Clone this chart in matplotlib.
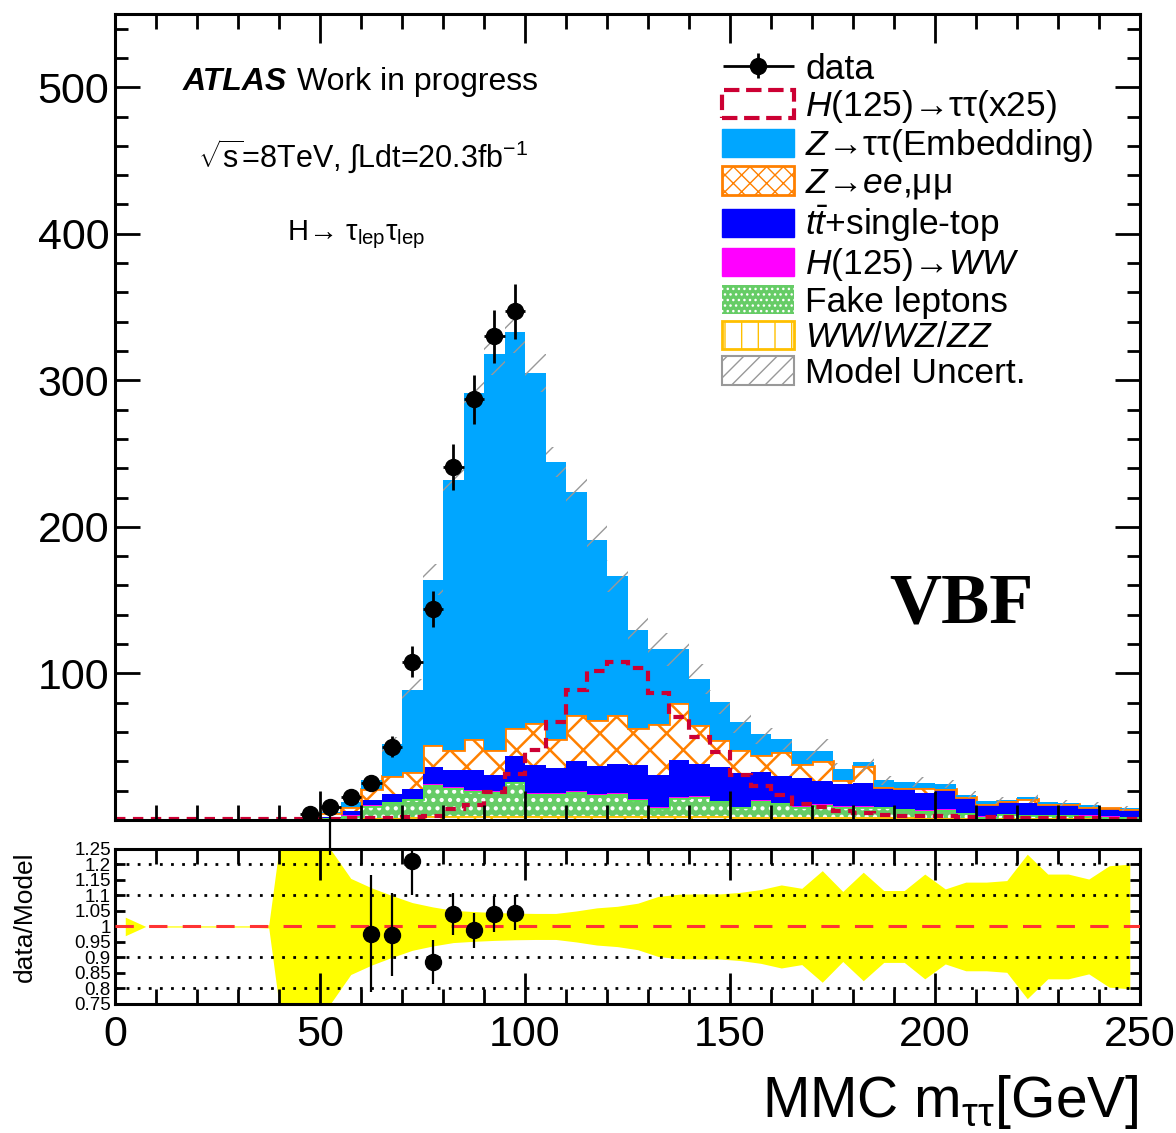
import matplotlib
matplotlib.use("Agg")
import matplotlib.pyplot as plt
import matplotlib.patches as mpatches
from matplotlib.legend_handler import HandlerErrorbar
from matplotlib.ticker import MultipleLocator, FixedLocator, FuncFormatter
from matplotlib.transforms import Bbox, TransformedBbox
import numpy as np

plt.rcParams["font.family"] = ["Liberation Sans", "DejaVu Sans"]
plt.rcParams["mathtext.fontset"] = "custom"
plt.rcParams["mathtext.rm"] = "Liberation Sans"
plt.rcParams["mathtext.it"] = "Liberation Sans:italic"
plt.rcParams["mathtext.bf"] = "Liberation Sans:bold"

# ---------------------------------------------------------------------------
# MMC mass histograms, 5 GeV bins from 0 to 250 GeV (VBF category)
# ---------------------------------------------------------------------------
edges = np.arange(0, 255, 5)
centers = 0.5 * (edges[:-1] + edges[1:])

diboson = [0, 0, 0, 0, 0, 0, 0, 0, 0, 0.1, 0.3, 0.6, 1.0, 1.5, 2.0, 2.5, 2.5,
           2.5, 2.5, 3.0, 3.0, 3.0, 3.0, 3.0, 3.0, 2.5, 2.5, 2.5, 2.5, 2.5,
           2.0, 2.0, 2.0, 2.0, 2.0, 2.0, 2.0, 2.0, 1.8, 1.5, 1.5, 1.5, 1.0,
           1.2, 1.2, 1.0, 1.0, 1.0, 0.8, 0.8]
fakes = [0, 0, 0, 0, 0, 0, 0, 0, 0, 0.2, 0.7, 2.4, 8.5, 10.5, 12.1, 21.5,
         19.5, 17.5, 16.5, 22.6, 15.0, 15.0, 16.4, 14.0, 14.8, 11.2, 5.5,
         12.3, 13.5, 10.1, 6.5, 11.0, 9.4, 7.1, 8.3, 7.1, 7.1, 6.5, 5.5, 4.6,
         5.3, 3.0, 1.3, 2.7, 2.2, 2.4, 2.2, 2.0, 1.5, 1.0]
hww = [0, 0, 0, 0, 0, 0, 0, 0, 0, 0, 0.1, 0.2, 0.4, 0.5, 0.5, 0.6, 0.6, 0.6,
       0.6, 0.6, 0.6, 0.6, 0.6, 0.6, 0.6, 0.6, 0.6, 0.6, 0.6, 0.6, 0.5, 0.5,
       0.5, 0.5, 0.5, 0.5, 0.5, 0.5, 0.4, 0.4, 0.4, 0.3, 0.3, 0.3, 0.3, 0.3,
       0.3, 0.3, 0.3, 0.3]
top = [0, 0, 0, 0, 0, 0, 0, 0, 0, 0.3, 1.1, 2.6, 3.6, 5.5, 6.4, 11.4, 11.4,
       13.4, 11.0, 17.6, 19.0, 17.0, 20.4, 19.4, 19.9, 23.4, 22.2, 25.6, 21.8,
       22.6, 23.0, 19.4, 17.8, 18.9, 15.5, 14.8, 15.5, 13.4, 13.3, 12.2, 13.3,
       10.7, 8.0, 7.8, 7.8, 6.8, 7.3, 5.7, 5.3, 5.3]
zll = [0, 0, 0, 0, 0, 0, 0, 0, 0, 0.4, 2.4, 3.2, 7.5, 12.0, 12.0, 15.0, 13.5,
       21.5, 16.9, 19.0, 28.4, 19.9, 31.0, 31.5, 33.1, 25.1, 34.7, 38.5, 26.2,
       19.0, 15.5, 11.6, 16.6, 9.9, 14.1, 3.0, 11.9, 0.4, 0.7, 3.0, 0.5, 0.5,
       0.4, 0.6, 2.9, 0.3, 0.2, 0.1, 0.1, 0.1]
ztt = [0, 0, 0, 0, 0, 0, 0, 0, 0.3, 0.8, 0.8, 3.0, 6.0, 21.5, 56.0, 113.0,
       184.5, 235.5, 270.5, 270.2, 239.0, 188.5, 152.6, 122.5, 95.2, 66.9,
       50.9, 36.9, 31.7, 25.6, 19.2, 14.2, 9.0, 8.4, 6.4, 7.3, 2.5, 4.2, 3.9,
       3.5, 3.5, 1.1, 1.6, 1.1, 1.1, 1.5, 0.6, 1.4, 0.4, 0.5]
signal_x25 = [0.5, 0.5, 0.5, 0.5, 0.5, 0.5, 0.5, 0.5, 0.5, 0.6, 0.8, 1.0, 1.2,
              1.5, 2.3, 3.0, 7.3, 10.3, 19.4, 31.3, 48.0, 66.7, 88.4, 101.6,
              107.7, 103.9, 86.8, 70.0, 56.6, 46.3, 30.8, 23.3, 17.1, 11.0,
              8.7, 6.4, 4.6, 3.4, 3.0, 2.8, 2.5, 2.2, 2.0, 1.8, 1.5, 1.3, 1.2,
              1.0, 0.9, 0.8]
# relative model uncertainty per bin
rel_unc = [0.03, 0.0, 0.002, 0.002, 0.002, 0.002, 0.002, 0.005, 0.5, 0.45,
           0.25, 0.155, 0.125, 0.10, 0.077, 0.063, 0.052, 0.048, 0.045, 0.043,
           0.042, 0.042, 0.05, 0.06, 0.065, 0.075, 0.097, 0.104, 0.105, 0.105,
           0.110, 0.119, 0.134, 0.123, 0.180, 0.113, 0.175, 0.116, 0.116,
           0.169, 0.121, 0.143, 0.143, 0.148, 0.233, 0.169, 0.169, 0.153,
           0.196, 0.201]

# data (blinded above 100 GeV)
data_x = [47.5, 52.5, 57.5, 62.5, 67.5, 72.5, 77.5, 82.5, 87.5, 92.5, 97.5]
data_y = [4, 9, 16, 25, 50, 108, 144, 241, 287, 330, 347]

# data/model ratio points
ratio_x = [52.5, 62.5, 67.5, 72.5, 77.5, 82.5, 87.5, 92.5, 97.5]
ratio_y = [1.67, 0.977, 0.974, 1.21, 0.885, 1.04, 0.987, 1.04, 1.045]
ratio_lo = [0.44, 0.19, 0.135, 0.11, 0.072, 0.067, 0.056, 0.057, 0.055]
ratio_hi = [0.44, 0.19, 0.135, 0.035, 0.072, 0.067, 0.056, 0.057, 0.055]

# colours
C_ZTT = "#00a6ff"
C_ZLL = "#ff8000"
C_TOP = "#0000ff"
C_HWW = "#ff00ff"
C_FAKE = "#66cc66"
C_VV = "#ffc000"
C_SIG = "#cc0033"
C_UNC = "#999999"

# ---------------------------------------------------------------------------
fig = plt.figure(figsize=(11.76, 11.33), dpi=100)
ax = fig.add_axes([0.0978, 0.2763, 0.8716, 0.7114])
rax = fig.add_axes([0.0978, 0.1139, 0.8716, 0.1368])

stack = [
    (diboson, "white", C_VV, "|"),
    (fakes, C_FAKE, "white", ".."),
    (hww, C_HWW, C_HWW, None),
    (top, C_TOP, C_TOP, None),
    (zll, "white", C_ZLL, "x"),
    (ztt, C_ZTT, C_ZTT, None),
]
base = np.zeros(len(centers))
for vals, fc, ec, hatch in stack:
    vals = np.asarray(vals, dtype=float)
    plt.rcParams["hatch.linewidth"] = 1.8
    ax.stairs(base + vals, edges, baseline=base.copy(), fill=True,
              facecolor=fc, edgecolor=ec, hatch=hatch, linewidth=0)
    base = base + vals
    if fc == "white" or fc == C_FAKE:
        ax.stairs(base, edges, baseline=None, color=ec if fc == "white" else "#55dd55",
                  linewidth=2)

total = base
unc = total * np.asarray(rel_unc)
plt.rcParams["hatch.linewidth"] = 1.0
ax.stairs(total + unc, edges, baseline=total - unc, fill=True,
          facecolor="none", edgecolor=C_UNC, hatch="/", linewidth=0)

ax.stairs(signal_x25, edges, baseline=None, color=C_SIG, linewidth=3,
          linestyle=(0, (2.5, 1.8)))

data_err = np.sqrt(data_y)
eb = ax.errorbar(data_x, data_y, yerr=data_err, xerr=2.5, fmt="o",
                 color="black", ms=11.5, elinewidth=2, capsize=0, zorder=10)

ax.set_xlim(0, 250)
ax.set_ylim(0, 550)
ax.xaxis.set_major_locator(MultipleLocator(50))
ax.xaxis.set_minor_locator(MultipleLocator(10))
ax.yaxis.set_major_locator(FixedLocator([100, 200, 300, 400, 500]))
ax.yaxis.set_minor_locator(MultipleLocator(20))
ax.tick_params(axis="both", which="both", direction="in", top=True,
               right=True, width=2, labelbottom=False)
ax.tick_params(axis="x", which="major", length=21)
ax.tick_params(axis="x", which="minor", length=11)
ax.tick_params(axis="y", which="major", length=18, labelsize=31, pad=4)
ax.tick_params(axis="y", which="minor", length=9.5)
for sp in ax.spines.values():
    sp.set_linewidth(2.2)

ax.text(0.066, 0.915, "ATLAS", transform=ax.transAxes, fontsize=23,
        va="center", ha="left", fontweight="bold", style="italic")
ax.text(0.178, 0.915, "Work in progress", transform=ax.transAxes,
        fontsize=23, va="center", ha="left")
ax.text(0.081, 0.822, r"$\sqrt{\mathregular{s}}$=8TeV, $\int$Ldt=20.3fb$^{-1}$",
        transform=ax.transAxes, fontsize=22, va="center", ha="left")
ax.text(0.168, 0.726, r"H→ τ$_{\mathregular{lep}}$τ$_{\mathregular{lep}}$",
        transform=ax.transAxes, fontsize=21, va="center", ha="left")
ax.text(0.826, 0.267, "VBF", transform=ax.transAxes, fontsize=52,
        fontweight="bold", family="Liberation Serif", ha="center",
        va="center")

handles = [
    eb,
    mpatches.Patch(facecolor="none", edgecolor=C_SIG, linestyle="--", linewidth=3),
    mpatches.Patch(facecolor=C_ZTT, edgecolor=C_ZTT),
    mpatches.Patch(facecolor="white", edgecolor=C_ZLL, hatch="xx", linewidth=2),
    mpatches.Patch(facecolor=C_TOP, edgecolor=C_TOP),
    mpatches.Patch(facecolor=C_HWW, edgecolor=C_HWW),
    mpatches.Patch(facecolor=C_FAKE, edgecolor="white", hatch="...", linewidth=0),
    mpatches.Patch(facecolor="white", edgecolor=C_VV, hatch="|", linewidth=2),
    mpatches.Patch(facecolor="white", edgecolor=C_UNC, hatch="//", linewidth=1.5),
]
labels = [
    "data",
    r"$H$(125)→ττ(x25)",
    r"$Z$→ττ(Embedding)",
    r"$Z$→$ee$,μμ",
    r"$t\bar{t}$+single-top",
    r"$H$(125)→$WW$",
    "Fake leptons",
    r"$WW/WZ/ZZ$",
    "Model Uncert.",
]
ax.legend(handles, labels, loc="upper left", bbox_to_anchor=(0.592, 0.952),
          frameon=False, fontsize=25.5, handlelength=2.05, handleheight=0.85,
          handletextpad=0.3, labelspacing=0.06, borderpad=0,
          borderaxespad=0,
          handler_map={eb: HandlerErrorbar(xerr_size=1.0, yerr_size=0.35)})

# ---------------------------------------------------------------------------
# ratio panel
# ---------------------------------------------------------------------------
rel = np.asarray(rel_unc)
rax.fill_between(centers, 1 - rel, 1 + rel, color="#ffff00", linewidth=0,
                 zorder=1)
for yv in (0.8, 0.9, 1.1, 1.2):
    rax.axhline(yv, color="black", linestyle=(0, (1, 3)), linewidth=2,
                zorder=2)
rax.axhline(1.0, color="#ff3333", linestyle=(0, (6, 5)), linewidth=2.2,
            zorder=3)
reb = rax.errorbar(ratio_x, ratio_y, yerr=[ratio_lo, ratio_hi], fmt="o",
                   color="black", ms=11.5, elinewidth=1.6, capsize=0,
                   zorder=10)
ext = TransformedBbox(Bbox([[0, 0], [1, 1.22]]), rax.transAxes)
for col in reb[2]:
    col.set_clip_box(ext)

rax.set_xlim(0, 250)
rax.set_ylim(0.75, 1.25)
rax.xaxis.set_major_locator(MultipleLocator(50))
rax.xaxis.set_minor_locator(MultipleLocator(10))
rax.yaxis.set_major_locator(FixedLocator(np.round(np.arange(0.75, 1.2501, 0.05), 2)))
rax.yaxis.set_major_formatter(FuncFormatter(lambda v, p: f"{v:g}"))
rax.tick_params(axis="both", which="both", direction="in", top=True,
                right=True, width=2)
rax.tick_params(axis="x", which="major", length=22, labelsize=31, pad=8)
rax.tick_params(axis="x", which="minor", length=11)
rax.tick_params(axis="y", which="major", length=7, labelsize=13.5, pad=3)
for sp in rax.spines.values():
    sp.set_linewidth(2.2)

fig.text(0.021, 0.191, "data/Model", rotation=90, fontsize=19,
         ha="center", va="center")
fig.text(0.968, 0.014, r"MMC m$_{\mathregular{\tau\tau}}$[GeV]", fontsize=41,
         ha="right", va="baseline")

fig.savefig("out.png", dpi=100)
